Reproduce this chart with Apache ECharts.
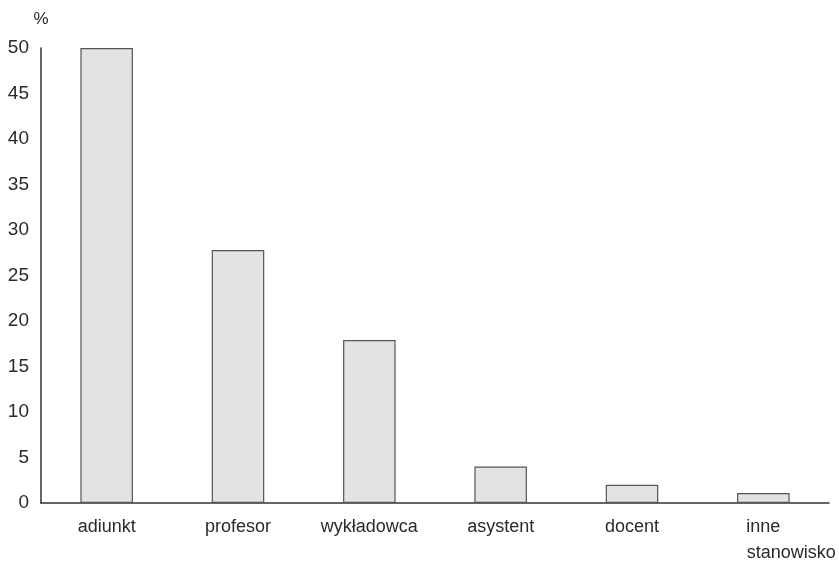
<!DOCTYPE html>
<html>
<head>
<meta charset="utf-8">
<script src="https://cdn.jsdelivr.net/npm/echarts@6/dist/echarts.min.js"></script>
<style>
html,body{margin:0;padding:0;background:#fff;}
#c{width:839px;height:566px;}
</style>
</head>
<body>
<div id="c"></div>
<script>
const categories = ['adiunkt', 'profesor', 'wykładowca', 'asystent', 'docent', 'inne\nstanowisko'];
const values = [50, 27.8, 17.9, 4.0, 2.0, 1.1];
const yTicks = { min: 0, max: 50, interval: 5 };
const yName = '%';

const FONT = '"Liberation Sans", Arial, sans-serif';
const chart = echarts.init(document.getElementById('c'));
chart.setOption({
  animation: false,
  grid: { left: 41, top: 48, width: 788, bottom: 61, containLabel: false },
  xAxis: {
    type: 'category',
    data: categories,
    axisLine: { lineStyle: { color: '#333', width: 1.5 } },
    axisTick: { show: false },
    axisLabel: {
      interval: 0,
      hideOverlap: false,
      margin: 11,
      color: '#2a2a2a',
      fontFamily: FONT,
      fontSize: 18,
      lineHeight: 26,
      formatter: function (v) {
        if (v.indexOf('\n') >= 0) {
          const p = v.split('\n');
          return '{a|' + p[0] + '}\n{b|' + p[1] + '}';
        }
        return v;
      },
      rich: {
        a: { align: 'center', fontFamily: FONT, fontSize: 18, color: '#2a2a2a', lineHeight: 26 },
        b: { align: 'center', fontFamily: FONT, fontSize: 18, color: '#2a2a2a', lineHeight: 26, padding: [0, 0, 0, 56] }
      }
    }
  },
  yAxis: {
    type: 'value',
    min: yTicks.min, max: yTicks.max, interval: yTicks.interval,
    name: yName,
    nameLocation: 'end',
    nameGap: 20,
    nameTextStyle: { color: '#2a2a2a', fontFamily: FONT, fontSize: 17, align: 'center' },
    axisLine: { show: true, lineStyle: { color: '#333', width: 1.5 } },
    axisTick: { show: false },
    splitLine: { show: false },
    axisLabel: { margin: 12, color: '#2a2a2a', fontFamily: FONT, fontSize: 19 }
  },
  series: [{
    type: 'bar',
    data: values,
    barWidth: '40%',
    itemStyle: { color: '#e3e3e3', borderColor: '#555', borderWidth: 1.2 }
  }]
});
</script>
</body>
</html>
